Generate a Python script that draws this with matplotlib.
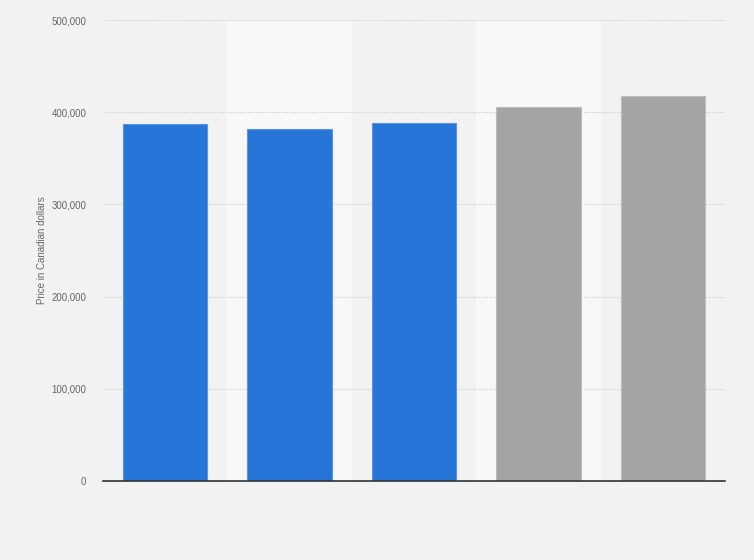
import matplotlib
matplotlib.use("Agg")
import matplotlib.pyplot as plt
import numpy as np

plt.rcParams['font.family'] = ['Liberation Sans', 'DejaVu Sans']

# values (no category labels shown)
prices = [387000, 382000, 388500, 405500, 417500]
bar_colors = ['#2775d9', '#2775d9', '#2775d9', '#a4a4a4', '#a4a4a4']
edge_colors = ['#5a95e3', '#5a95e3', '#5a95e3', '#bdbdbd', '#bdbdbd']
yticks = [0, 100000, 200000, 300000, 400000, 500000]

fig = plt.figure(figsize=(7.54, 5.6), dpi=100)
fig.patch.set_facecolor('#f2f2f2')
ax = fig.add_axes([103/754, 1 - 481/560, 622/754, 461/560])
ax.set_facecolor('#f2f2f2')

x = np.arange(len(prices))

# lighter alternating column bands
for i in x:
    if i % 2 == 1:
        ax.axvspan(i - 0.5, i + 0.5, color='#f8f8f8', zorder=0, lw=0)

ax.bar(x, prices, width=0.68, color=bar_colors, edgecolor=edge_colors,
       linewidth=0.8, zorder=3)

ax.set_xlim(-0.5, len(prices) - 0.5)
ax.set_ylim(0, 500000)
ax.set_yticks(yticks)
ax.set_yticklabels([f'{v:,}' for v in yticks])
ax.set_xticks([])
ax.yaxis.grid(True, linestyle=(0, (1, 1.5)), color='#c8c8c8', linewidth=0.8, zorder=1)

for s in ['top', 'right', 'left']:
    ax.spines[s].set_visible(False)
ax.spines['bottom'].set_color('#333333')
ax.spines['bottom'].set_linewidth(1.2)
ax.spines['bottom'].set_zorder(4)

ax.tick_params(axis='y', length=0, pad=12, labelsize=7, labelcolor='#666666')
ax.set_ylabel('Price in Canadian dollars', fontsize=7, color='#666666')
ax.yaxis.set_label_coords(-0.09, 0.5)

fig.savefig('out.png', dpi=100, facecolor=fig.get_facecolor())
